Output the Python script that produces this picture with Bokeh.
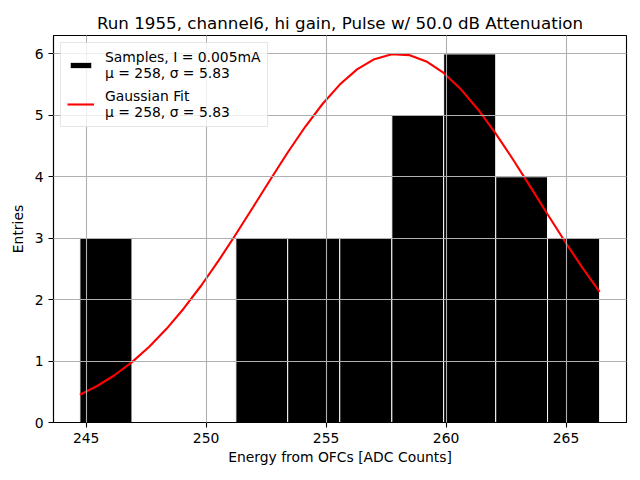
from bokeh.plotting import figure
from bokeh.models import Range1d, FixedTicker, Legend, LegendItem
from bokeh.embed import file_html
from bokeh.resources import INLINE

# ---- data ----
bin_edges = [244.74, 246.91, 249.07, 251.24, 253.40, 255.57,
             257.74, 259.90, 262.07, 264.23, 266.40]
counts = [3, 0, 0, 3, 3, 3, 5, 6, 4, 3]

fit_x = [244.74, 245.46, 246.18, 246.91, 247.63, 248.35, 249.07, 249.79,
         250.52, 251.24, 251.96, 252.68, 253.40, 254.13, 254.85, 255.57,
         256.29, 257.01, 257.74, 258.46, 259.18, 259.90, 260.62, 261.35,
         262.07, 262.79, 263.51, 264.23, 264.96, 265.68, 266.40]
fit_y = [0.452, 0.594, 0.769, 0.983, 1.234, 1.525, 1.856, 2.226,
         2.634, 3.064, 3.508, 3.956, 4.395, 4.814, 5.185, 5.501,
         5.748, 5.914, 5.994, 5.981, 5.878, 5.690, 5.424, 5.088,
         4.703, 4.282, 3.839, 3.390, 2.943, 2.520, 2.125]

x_ticks = [245, 250, 255, 260, 265]
y_ticks = [0, 1, 2, 3, 4, 5, 6]

title_text = "Run 1955, channel6, hi gain, Pulse w/ 50.0 dB Attenuation"
x_label = "Energy from OFCs [ADC Counts]"
y_label = "Entries"
label_samples = "Samples, I = 0.005mA\nμ = 258, σ = 5.83"
label_fit = "Gaussian Fit\nμ = 258, σ = 5.83"

FONT = "DejaVu Sans"

p = figure(width=640, height=480, output_backend="svg", toolbar_location=None,
           x_range=Range1d(243.64, 267.52), y_range=Range1d(0, 6.3),
           min_border_left=53, min_border_right=14, min_border_top=35,
           min_border_bottom=58, title=title_text)

bars = p.quad(left=bin_edges[:-1], right=bin_edges[1:], bottom=0, top=counts,
              fill_color="black", line_color="white", line_width=1)
line = p.line(fit_x, fit_y, line_color="#ff0000", line_width=2.1)

# title
p.title.text_font = FONT
p.title.text_font_size = "16.7px"
p.title.text_font_style = "normal"
p.title.text_color = "black"
p.title.align = "center"
p.title.standoff = 5

# axes
for ax in (p.xaxis[0], p.yaxis[0]):
    ax.axis_label_text_font = FONT
    ax.axis_label_text_font_size = "13.9px"
    ax.axis_label_text_font_style = "normal"
    ax.axis_label_text_color = "black"
    ax.major_label_text_font = FONT
    ax.major_label_text_font_size = "13.9px"
    ax.major_label_text_color = "black"
    ax.axis_line_color = "black"
    ax.axis_line_width = 1.1
    ax.major_tick_line_color = "black"
    ax.major_tick_line_width = 1.1
    ax.major_tick_in = 0
    ax.major_tick_out = 5
    ax.minor_tick_line_color = None
    ax.major_label_standoff = 5

p.xaxis[0].ticker = FixedTicker(ticks=x_ticks)
p.yaxis[0].ticker = FixedTicker(ticks=y_ticks)
p.xaxis[0].axis_label = x_label
p.yaxis[0].axis_label = y_label
p.xaxis[0].axis_label_standoff = 3
p.yaxis[0].axis_label_standoff = 6

p.outline_line_color = "black"
p.outline_line_width = 1.1
p.outline_line_alpha = 1.0

for g in (p.xgrid[0], p.ygrid[0]):
    g.grid_line_color = "#b0b0b0"
    g.grid_line_width = 1.1
    g.level = "guide"
p.xgrid[0].ticker = FixedTicker(ticks=x_ticks)
p.ygrid[0].ticker = FixedTicker(ticks=y_ticks)

legend = Legend(items=[LegendItem(label=label_samples, renderers=[bars]),
                       LegendItem(label=label_fit, renderers=[line])],
                location="top_left")
legend.label_text_font = FONT
legend.label_text_font_size = "13.9px"
legend.label_text_color = "black"
legend.padding = 6
legend.margin = 7
legend.spacing = 7
legend.glyph_width = 27
legend.glyph_height = 8
legend.label_standoff = 11
legend.background_fill_alpha = 0.8
legend.border_line_color = "#cccccc"
legend.border_line_width = 1
p.add_layout(legend)

p.background_fill_color = "white"
p.border_fill_color = "white"

open("out.html", "w").write(file_html(p, INLINE))
